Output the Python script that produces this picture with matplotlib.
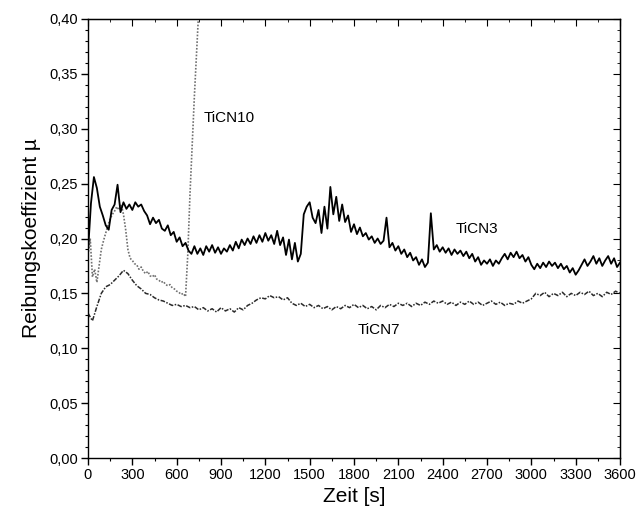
import numpy as np
import matplotlib
matplotlib.use("Agg")
import matplotlib.pyplot as plt
from matplotlib.ticker import MultipleLocator, FuncFormatter

plt.rcParams['font.family'] = ['Liberation Sans', 'DejaVu Sans']

# ---- data ----
t_ticn3 = list(range(0, 3601, 20))
mu_ticn3 = [
    0.188, 0.232, 0.256, 0.246, 0.229, 0.221, 0.212, 0.208, 0.226, 0.231,
    0.249, 0.224, 0.233, 0.227, 0.231, 0.226, 0.233, 0.229, 0.231, 0.225,
    0.221, 0.213, 0.219, 0.214, 0.217, 0.209, 0.207, 0.212, 0.203, 0.206,
    0.197, 0.201, 0.193, 0.196, 0.189, 0.186, 0.193, 0.186, 0.191, 0.185,
    0.193, 0.188, 0.194, 0.187, 0.192, 0.186, 0.191, 0.188, 0.194, 0.189,
    0.197, 0.191, 0.199, 0.194, 0.200, 0.195, 0.202, 0.196, 0.203, 0.197,
    0.205, 0.198, 0.203, 0.195, 0.207, 0.194, 0.201, 0.185, 0.199, 0.181,
    0.196, 0.179, 0.186, 0.222, 0.229, 0.233, 0.219, 0.214, 0.226, 0.205,
    0.229, 0.209, 0.247, 0.222, 0.238, 0.216, 0.231, 0.215, 0.221, 0.206,
    0.213, 0.204, 0.210, 0.202, 0.205, 0.199, 0.202, 0.196, 0.200, 0.195,
    0.198, 0.219, 0.192, 0.196, 0.189, 0.193, 0.186, 0.190, 0.183, 0.187,
    0.180, 0.183, 0.176, 0.181, 0.174, 0.178, 0.223, 0.190, 0.194, 0.188,
    0.192, 0.187, 0.191, 0.185, 0.190, 0.186, 0.189, 0.184, 0.188, 0.182,
    0.186, 0.179, 0.183, 0.176, 0.180, 0.177, 0.181, 0.175, 0.180, 0.177,
    0.182, 0.186, 0.181, 0.187, 0.183, 0.188, 0.182, 0.185, 0.179, 0.183,
    0.176, 0.172, 0.177, 0.173, 0.178, 0.174, 0.179, 0.175, 0.178, 0.173,
    0.177, 0.172, 0.175, 0.169, 0.173, 0.167, 0.171, 0.176, 0.181, 0.175,
    0.179, 0.184, 0.177, 0.182, 0.175, 0.180, 0.184, 0.177, 0.182, 0.174,
    0.178,
]

t_ticn7 = list(range(0, 3601, 30))
mu_ticn7 = [
    0.132, 0.125, 0.138, 0.150, 0.156, 0.158, 0.162, 0.166, 0.171, 0.168,
    0.162, 0.157, 0.154, 0.150, 0.149, 0.146, 0.144, 0.143, 0.141, 0.139,
    0.140, 0.138, 0.139, 0.137, 0.138, 0.135, 0.137, 0.134, 0.136, 0.133,
    0.137, 0.134, 0.136, 0.133, 0.137, 0.135, 0.139, 0.141, 0.144, 0.146,
    0.145, 0.148, 0.146, 0.147, 0.144, 0.146, 0.141, 0.139, 0.141, 0.138,
    0.140, 0.137, 0.139, 0.136, 0.138, 0.135, 0.138, 0.136, 0.139, 0.137,
    0.140, 0.137, 0.139, 0.136, 0.138, 0.135, 0.139, 0.137, 0.140, 0.138,
    0.141, 0.139, 0.141, 0.138, 0.141, 0.139, 0.142, 0.140, 0.143, 0.141,
    0.143, 0.140, 0.142, 0.139, 0.142, 0.140, 0.143, 0.140, 0.142, 0.139,
    0.141, 0.143, 0.140, 0.142, 0.139, 0.141, 0.140, 0.143, 0.141, 0.143,
    0.145, 0.150, 0.148, 0.151, 0.147, 0.150, 0.148, 0.151, 0.147, 0.150,
    0.148, 0.151, 0.149, 0.152, 0.148, 0.150, 0.147, 0.151, 0.149, 0.152,
    0.150,
]

t_ticn10 = list(range(0, 751, 15))
mu_ticn10 = [
    0.185, 0.200, 0.165, 0.172, 0.160, 0.175, 0.190, 0.198, 0.205, 0.212,
    0.218, 0.222, 0.225, 0.229, 0.226, 0.231, 0.222, 0.208, 0.190, 0.182,
    0.180, 0.177, 0.176, 0.172, 0.174, 0.170, 0.168, 0.170, 0.166, 0.165,
    0.167, 0.163, 0.162, 0.160, 0.161, 0.158, 0.157, 0.158, 0.155, 0.154,
    0.152, 0.151, 0.149, 0.150, 0.147, 0.185, 0.240, 0.285, 0.330, 0.370,
    0.410,
]

x_ticks = list(range(0, 3601, 300))
y_ticks = [0.00, 0.05, 0.10, 0.15, 0.20, 0.25, 0.30, 0.35, 0.40]

# ---- figure ----
fig = plt.figure(figsize=(6.39, 5.19), dpi=100)
ax = fig.add_axes([88 / 639, 61 / 519, 532 / 639, 439 / 519])

ax.plot(t_ticn10, mu_ticn10, color='#707070', lw=1.2, ls=(0, (1, 1)))
ax.plot(t_ticn7, mu_ticn7, color='#2a2a2a', lw=1.1, ls=(0, (3, 1, 1, 1)))
ax.plot(t_ticn3, mu_ticn3, color='black', lw=1.3)

ax.set_xlim(0, 3600)
ax.set_ylim(0, 0.40)
ax.set_xticks(x_ticks)
ax.set_yticks(y_ticks)
ax.xaxis.set_minor_locator(MultipleLocator(150))
ax.yaxis.set_minor_locator(MultipleLocator(0.01))
ax.yaxis.set_major_formatter(FuncFormatter(lambda v, p: f"{v:.2f}".replace('.', ',')))

for s in ax.spines.values():
    s.set_linewidth(1.0)

ax.tick_params(axis='both', which='major', direction='out', length=5, width=1.0,
               labelsize=10.5, pad=2)
ax.tick_params(axis='both', which='minor', direction='out', length=2.5, width=0.8)

# mirrored inward ticks on top/right
axt = ax.secondary_xaxis('top')
axt.set_xticks(x_ticks)
axt.xaxis.set_minor_locator(MultipleLocator(150))
axt.tick_params(which='major', direction='in', length=5, labeltop=False)
axt.tick_params(which='minor', direction='in', length=2.5)
axr = ax.secondary_yaxis('right')
axr.set_yticks(y_ticks)
axr.yaxis.set_minor_locator(MultipleLocator(0.01))
axr.tick_params(which='major', direction='in', length=5, labelright=False)
axr.tick_params(which='minor', direction='in', length=2.5)

ax.set_xlabel('Zeit [s]', fontsize=15, labelpad=4)
ax.set_ylabel('Reibungskoeffizient µ', fontsize=15, labelpad=6)

ax.text(780, 0.31, 'TiCN10', fontsize=11, ha='left', va='center')
ax.text(2630, 0.209, 'TiCN3', fontsize=11, ha='center', va='center')
ax.text(1970, 0.117, 'TiCN7', fontsize=11, ha='center', va='center')

fig.savefig('out.png', dpi=100)
